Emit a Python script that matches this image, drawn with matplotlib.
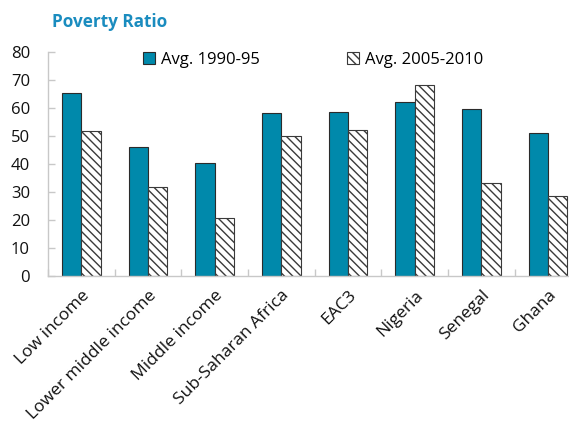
import matplotlib
matplotlib.use("Agg")
import matplotlib.pyplot as plt
import numpy as np

categories = ["Low income", "Lower middle income", "Middle income",
              "Sub-Saharan Africa", "EAC3", "Nigeria", "Senegal", "Ghana"]
avg_1990_95 = [65.2, 46.0, 40.5, 58.1, 58.7, 62.0, 59.8, 51.2]
avg_2005_2010 = [51.8, 31.7, 20.8, 49.9, 52.0, 68.1, 33.3, 28.7]
series_labels = ["Avg. 1990-95", "Avg. 2005-2010"]
y_ticks = [0, 10, 20, 30, 40, 50, 60, 70, 80]

plt.rcParams["font.family"] = ["Open Sans", "DejaVu Sans"]
plt.rcParams["hatch.linewidth"] = 1.0
plt.rcParams["hatch.color"] = "#555555"

fig = plt.figure(figsize=(5.69, 4.23), dpi=100)
ax = fig.add_axes([48 / 569, 147 / 423, 533.3 / 569, 224 / 423])

x = np.arange(len(categories))
w = 0.29
ax.bar(x - w / 2, avg_1990_95, width=w, color="#0089ab", edgecolor="#2b2b2b",
       linewidth=0.8, label=series_labels[0], zorder=2)
ax.bar(x + w / 2, avg_2005_2010, width=w, color="white", edgecolor="#3a3a3a",
       linewidth=0.8, hatch="\\\\\\\\", label=series_labels[1], zorder=2)

ax.set_xlim(-0.5, len(categories) - 0.5)
ax.set_ylim(0, 80)
ax.set_yticks(y_ticks)
ax.set_yticklabels([str(t) for t in y_ticks], fontsize=12, color="#111111")

ax.set_xticks(x)
ax.set_xticklabels(categories, rotation=45, ha="right", rotation_mode="anchor",
                   fontsize=12.5, color="#111111")
ax.tick_params(axis="x", which="major", length=0, pad=8)
ax.set_xticks(np.arange(len(categories) + 1) - 0.5, minor=True)
ax.tick_params(axis="x", which="minor", direction="in", length=5,
               color="#c8c8c8", width=1)
ax.tick_params(axis="y", direction="in", length=5, color="#c8c8c8",
               width=1, pad=13)

for side in ["top", "right"]:
    ax.spines[side].set_visible(False)
for side in ["left", "bottom"]:
    ax.spines[side].set_color("#c8c8c8")
    ax.spines[side].set_linewidth(1)

fig.text(52 / 569, 1 - 27 / 423, "Poverty Ratio", fontsize=12.3,
         fontweight="bold", color="#1a8cbf", ha="left", va="baseline")

fig.legend(loc="center", bbox_to_anchor=(313 / 569, 1 - 60 / 423), ncol=2,
           frameon=False, fontsize=12, handlelength=0.75, handleheight=0.75,
           handletextpad=0.35, columnspacing=5.2, borderaxespad=0)

fig.savefig("out.png", dpi=100)
